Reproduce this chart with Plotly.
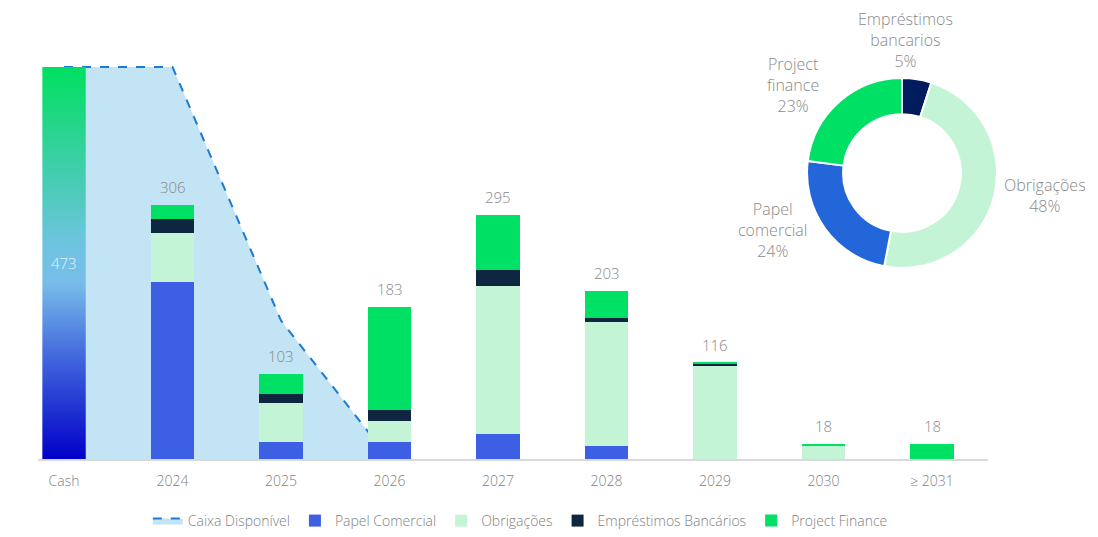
import plotly.graph_objects as go

# ---------------- data ----------------
categories = ["Cash", "2024", "2025", "2026", "2027", "2028", "2029", "2030", "≥ 2031"]
cash_value = 473
years = ["2024", "2025", "2026", "2027", "2028", "2029", "2030", "≥ 2031"]
papel_comercial = [214, 20, 20, 30, 16, 0, 0, 0]
obrigacoes = [59, 47, 26, 179, 149, 113, 16, 0]
emprestimos = [17, 11, 13, 19, 5, 2, 0, 0]
project_finance = [16, 25, 124, 67, 33, 1, 2, 18]
caixa_cats = ["Cash", "2024", "2025", "2026"]
caixa_disponivel = [473, 473, 167, 0]

donut_labels = ["Empréstimos<br>bancarios", "Obrigações", "Papel<br>comercial", "Project<br>finance"]
donut_values = [5, 48, 24, 23]

# ---------------- styles ----------------
C_PC = "#3d5fe3"
C_OBR = "#c4f4d6"
C_EB = "#0f2640"
C_PF = "#00e064"
DONUT_COLORS = ["#001c5c", "#c4f4d6", "#2366d9", "#00e064"]
GRAY = "#8a8a8a"
FONT = "Open Sans"
W = 300

idx = {c: i for i, c in enumerate(categories)}
yx = [idx[c] for c in years]
BW = 0.4

fig = go.Figure()

# Caixa disponível area (main axes, drawn below bars which go on overlay axes)
fig.add_trace(go.Scatter(
    x=[idx[c] for c in caixa_cats], y=caixa_disponivel,
    mode="lines", fill="tozeroy", fillcolor="#c2e4f4",
    line=dict(color="#1a7ad4", width=2, dash="dash"),
    name="Caixa Disponível", hoverinfo="skip",
))

# Cash bar with vertical gradient
cx = idx["Cash"]
fig.add_trace(go.Scatter(
    x=[cx - BW / 2, cx + BW / 2, cx + BW / 2, cx - BW / 2, cx - BW / 2],
    y=[0, 0, cash_value, cash_value, 0],
    mode="lines", fill="toself", line=dict(width=0),
    fillgradient=dict(type="vertical", colorscale=[
        [0, "#0000c8"], [0.25, "#3f63dc"], [0.45, "#78bdea"],
        [0.55, "#6ec4e0"], [0.75, "#3ecfa8"], [1, "#00e060"]]),
    showlegend=False, hoverinfo="skip",
))

for name, vals, col in [("Papel Comercial", papel_comercial, C_PC),
                        ("Obrigações", obrigacoes, C_OBR),
                        ("Empréstimos Bancários", emprestimos, C_EB),
                        ("Project Finance", project_finance, C_PF)]:
    fig.add_trace(go.Bar(
        x=yx, y=vals, name=name, marker=dict(color=col, line=dict(width=0)),
        width=BW, xaxis="x2", yaxis="y2",
    ))

# Donut
fig.add_trace(go.Pie(
    labels=donut_labels, values=donut_values, hole=0.62, sort=False,
    direction="clockwise", rotation=0,
    marker=dict(colors=DONUT_COLORS, line=dict(color="white", width=2)),
    textinfo="none", showlegend=False, hoverinfo="skip",
    domain=dict(x=[0.7255, 0.9047], y=[0.4558, 0.9093]),
))

annotations = []
totals = [a + b + c + d for a, b, c, d in zip(papel_comercial, obrigacoes, emprestimos, project_finance)]
for x, t in zip(yx, totals):
    annotations.append(dict(x=x, y=t, xref="x2", yref="y2", text=str(t), showarrow=False,
                            yanchor="bottom", yshift=6,
                            font=dict(size=15, color=GRAY, family=FONT, weight=W)))
annotations.append(dict(x=cx, y=cash_value / 2, xref="x", yref="y", text=str(cash_value), showarrow=False,
                        font=dict(size=15, color="#e4f2fb", family=FONT, weight=W)))

donut_pos = [(0.818, 1.0), (0.950, 0.629), (0.6925, 0.5465), (0.712, 0.8926)]
for (px, py), lab, v in zip(donut_pos, donut_labels, donut_values):
    annotations.append(dict(x=px, y=py, xref="paper", yref="paper", text=f"{lab}<br>{v}%",
                            showarrow=False, xanchor="center", yanchor="middle", align="center",
                            font=dict(size=16, color=GRAY, family=FONT, weight=W)))

xr = [-0.24, 8.516]
yr = [0, 505.6]
xdom = [0, 950 / 1060]
fig.update_layout(
    width=1098, height=537,
    margin=dict(l=38, r=0, t=40, b=78),
    paper_bgcolor="white", plot_bgcolor="white",
    barmode="stack", bargap=0,
    font=dict(family=FONT, color=GRAY, size=14, weight=W),
    xaxis=dict(domain=xdom, range=xr, tickvals=list(range(len(categories))), ticktext=categories,
               showgrid=False, zeroline=False, showline=True, linecolor="#d9d9d9", linewidth=1.5,
               ticks="outside", ticklen=8, tickcolor="rgba(0,0,0,0)",
               tickfont=dict(size=14, color="#7f7f7f", family=FONT, weight=W)),
    yaxis=dict(range=yr, visible=False, showgrid=False, zeroline=False),
    xaxis2=dict(domain=xdom, range=xr, overlaying="x", visible=False, showgrid=False, zeroline=False),
    yaxis2=dict(range=yr, overlaying="y", visible=False, showgrid=False, zeroline=False),
    legend=dict(orientation="h", x=0.455, xanchor="center", y=-0.149, yanchor="middle",
                traceorder="normal",
                font=dict(size=14, color="#7f7f7f", family=FONT, weight=W), bgcolor="rgba(0,0,0,0)"),
    annotations=annotations,
    showlegend=True,
)

fig.write_html("out.html")
